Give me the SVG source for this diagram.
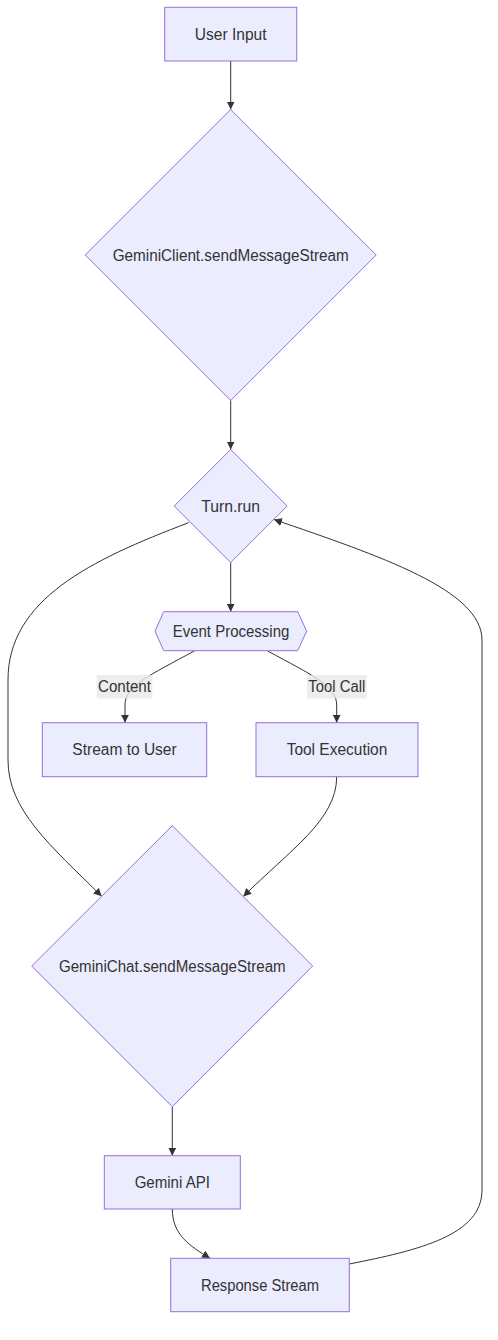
<svg xmlns="http://www.w3.org/2000/svg" width="498" height="1340" viewBox="0 0 498 1340">
<style>
.node{fill:#ECECFF;stroke:#9370DB;stroke-width:1px}
.lbl{font-family:"Liberation Sans",Arial,sans-serif;font-size:16px;fill:#333333;text-anchor:middle}
.edge{fill:none;stroke:#333333;stroke-width:1px}
.ebg{fill:#e8e8e8;fill-opacity:0.8}
</style>
<defs>
<marker id="arr" viewBox="0 0 10 10" refX="10" refY="5" markerWidth="8" markerHeight="8" markerUnits="userSpaceOnUse" orient="auto">
<path d="M0,0 L10,5 L0,10 z" fill="#333333"/>
</marker>
</defs>
<rect width="498" height="1340" fill="#ffffff"/>
<g id="edges">
<path class="edge" marker-end="url(#arr)" d="M230.7,61 L230.7,109.5"/>
<path class="edge" marker-end="url(#arr)" d="M230.7,400.5 L230.7,449.5"/>
<path class="edge" marker-end="url(#arr)" d="M230.7,562.5 L230.7,611.7"/>
<path class="edge" marker-end="url(#arr)" d="M194.3,651 C150,675 125,686 125,705 L125,722.7"/>
<path class="edge" marker-end="url(#arr)" d="M267.7,651 C312,675 336.7,686 336.7,705 L336.7,722.7"/>
<path class="edge" marker-end="url(#arr)" d="M336.7,776.7 C336.7,820 290,850 243.3,896.5"/>
<path class="edge" marker-end="url(#arr)" d="M188.7,522.7 C90,560 8,600 8,680 L8,760 C8,810 50,845 101.7,896.3"/>
<path class="edge" marker-end="url(#arr)" d="M172.3,1106.7 L172.3,1155.7"/>
<path class="edge" marker-end="url(#arr)" d="M172.3,1209 C172.3,1235 190,1246 210,1258.3"/>
<path class="edge" marker-end="url(#arr)" d="M349.3,1264 C420,1250 482,1235 482,1190 L482,640 C482,590 380,556 274,519.5"/>
<g id="label-content">
<rect class="ebg" x="96.7" y="675" width="55.6" height="23.4"/>
<text class="lbl" x="124.5" y="692.3" textLength="53" lengthAdjust="spacingAndGlyphs">Content</text>
</g>
<g id="label-toolcall">
<rect class="ebg" x="307" y="675" width="59.7" height="23.4"/>
<text class="lbl" x="336.8" y="692.3" textLength="57" lengthAdjust="spacingAndGlyphs">Tool Call</text>
</g>
</g>
<g id="user-input">
<rect class="node" x="164.7" y="7.3" width="132" height="53.7"/>
<text class="lbl" x="230.7" y="39.8" textLength="71.7" lengthAdjust="spacingAndGlyphs">User Input</text>
</g>
<g id="gemini-client">
<polygon class="node" points="230.7,109.5 376.2,255 230.7,400.5 85.2,255"/>
<text class="lbl" x="230.7" y="260.5" textLength="236" lengthAdjust="spacingAndGlyphs">GeminiClient.sendMessageStream</text>
</g>
<g id="turn-run">
<polygon class="node" points="230.7,449.5 287.2,506 230.7,562.5 174.2,506"/>
<text class="lbl" x="230.7" y="511.5" textLength="58.7" lengthAdjust="spacingAndGlyphs">Turn.run</text>
</g>
<g id="event-processing">
<polygon class="node" points="155,631.2 163.7,611.7 297.7,611.7 306.7,631.2 297.7,650.7 163.7,650.7"/>
<text class="lbl" x="231" y="636.7" textLength="116.7" lengthAdjust="spacingAndGlyphs">Event Processing</text>
</g>
<g id="stream-to-user">
<rect class="node" x="42.3" y="722.7" width="164.4" height="54"/>
<text class="lbl" x="124.5" y="755.2" textLength="104.3" lengthAdjust="spacingAndGlyphs">Stream to User</text>
</g>
<g id="tool-execution">
<rect class="node" x="256" y="722.7" width="162" height="54"/>
<text class="lbl" x="337" y="755.2" textLength="100.7" lengthAdjust="spacingAndGlyphs">Tool Execution</text>
</g>
<g id="gemini-chat">
<polygon class="node" points="172.3,825.7 312.7,966 172.3,1106.7 31.7,966"/>
<text class="lbl" x="172.3" y="971.5" textLength="226.7" lengthAdjust="spacingAndGlyphs">GeminiChat.sendMessageStream</text>
</g>
<g id="gemini-api">
<rect class="node" x="104.3" y="1155.7" width="136" height="53.3"/>
<text class="lbl" x="172.3" y="1187.8" textLength="75.3" lengthAdjust="spacingAndGlyphs">Gemini API</text>
</g>
<g id="response-stream">
<rect class="node" x="170.7" y="1258.3" width="178.6" height="53.4"/>
<text class="lbl" x="260" y="1290.5" textLength="118" lengthAdjust="spacingAndGlyphs">Response Stream</text>
</g>
</svg>
